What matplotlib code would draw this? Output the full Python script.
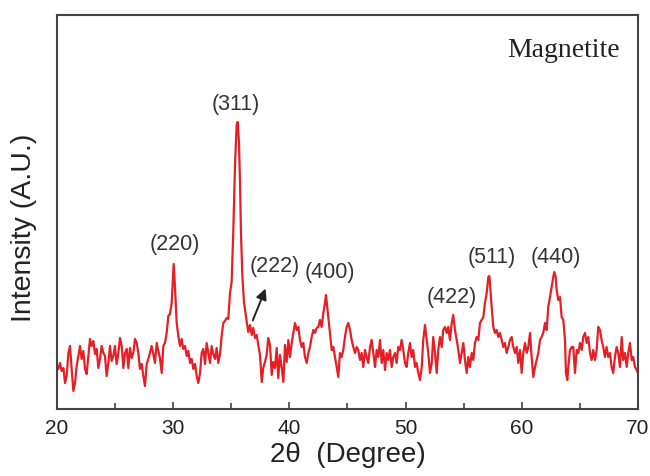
import matplotlib
matplotlib.use('Agg')
import matplotlib.pyplot as plt
from matplotlib.ticker import MultipleLocator

plt.rcParams['font.family'] = ['Liberation Sans', 'DejaVu Sans']

# XRD pattern of magnetite, intensity in arbitrary units
two_theta = [
    20.00, 20.11, 20.26, 20.40, 20.55, 20.69, 20.83, 20.98, 21.12, 21.26,
    21.41, 21.55, 21.69, 21.84, 21.98, 22.12, 22.27, 22.41, 22.55, 22.70,
    22.84, 22.98, 23.13, 23.27, 23.41, 23.56, 23.70, 23.84, 23.99, 24.13,
    24.27, 24.42, 24.56, 24.70, 24.85, 24.99, 25.13, 25.28, 25.42, 25.57,
    25.71, 25.85, 26.00, 26.14, 26.28, 26.43, 26.57, 26.71, 26.86, 27.00,
    27.14, 27.29, 27.43, 27.57, 27.72, 27.86, 28.00, 28.15, 28.29, 28.43,
    28.58, 28.72, 28.86, 29.01, 29.15, 29.29, 29.44, 29.58, 29.72, 29.87,
    30.04, 30.15, 30.30, 30.44, 30.59, 30.73, 30.87, 31.02, 31.16, 31.30,
    31.45, 31.59, 31.73, 31.88, 32.02, 32.16, 32.31, 32.45, 32.59, 32.74,
    32.88, 33.02, 33.17, 33.31, 33.45, 33.60, 33.74, 33.88, 34.03, 34.17,
    34.31, 34.46, 34.60, 34.74, 34.89, 35.03, 35.17, 35.32, 35.46, 35.55,
    35.66, 35.75, 35.83, 35.95, 36.09, 36.33, 36.46, 36.61, 36.76, 36.89,
    37.04, 37.19, 37.32, 37.47, 37.62, 37.75, 37.90, 38.04, 38.18, 38.33,
    38.48, 38.61, 38.76, 38.91, 39.04, 39.19, 39.34, 39.48, 39.62, 39.77,
    39.91, 40.05, 40.20, 40.34, 40.48, 40.63, 40.77, 40.91, 41.06, 41.20,
    41.34, 41.49, 41.63, 41.77, 41.92, 42.06, 42.20, 42.35, 42.49, 42.63,
    42.78, 42.92, 43.06, 43.15, 43.26, 43.35, 43.49, 43.64, 43.78, 43.92,
    44.07, 44.21, 44.35, 44.50, 44.64, 44.78, 44.93, 45.07, 45.22, 45.36,
    45.50, 45.65, 45.79, 45.93, 46.08, 46.22, 46.36, 46.51, 46.65, 46.79,
    46.94, 47.08, 47.22, 47.37, 47.51, 47.65, 47.80, 47.94, 48.08, 48.23,
    48.37, 48.51, 48.66, 48.80, 48.94, 49.09, 49.23, 49.37, 49.52, 49.66,
    49.80, 49.95, 50.09, 50.23, 50.38, 50.52, 50.66, 50.81, 50.95, 51.09,
    51.24, 51.39, 51.52, 51.67, 51.82, 51.95, 52.10, 52.25, 52.38, 52.53,
    52.68, 52.81, 52.96, 53.11, 53.24, 53.39, 53.54, 53.67, 53.82, 53.97,
    54.10, 54.25, 54.40, 54.54, 54.68, 54.83, 54.97, 55.11, 55.26, 55.40,
    55.54, 55.69, 55.83, 55.97, 56.12, 56.26, 56.40, 56.55, 56.69, 56.83,
    56.98, 57.12, 57.21, 57.26, 57.41, 57.55, 57.69, 57.84, 57.98, 58.12,
    58.27, 58.41, 58.55, 58.70, 58.84, 58.98, 59.13, 59.27, 59.42, 59.56,
    59.70, 59.85, 59.99, 60.13, 60.28, 60.42, 60.56, 60.71, 60.85, 60.99,
    61.14, 61.28, 61.42, 61.57, 61.71, 61.85, 62.00, 62.14, 62.28, 62.43,
    62.57, 62.71, 62.80, 62.92, 63.00, 63.14, 63.29, 63.43, 63.57, 63.72,
    63.80, 63.92, 64.00, 64.15, 64.30, 64.43, 64.58, 64.73, 64.86, 65.01,
    65.16, 65.29, 65.44, 65.59, 65.72, 65.87, 66.01, 66.15, 66.30, 66.44,
    66.58, 66.73, 66.87, 67.01, 67.16, 67.30, 67.44, 67.59, 67.73, 67.87,
    68.02, 68.16, 68.30, 68.45, 68.60, 68.73, 68.88, 69.03, 69.16, 69.31,
    69.46, 69.59, 69.74, 69.89, 70.00,
]
intensity = [
    43, 40, 46, 38, 41, 26, 33, 56, 63, 40,
    18, 26, 43, 53, 63, 50, 58, 40, 35, 53,
    70, 63, 68, 55, 60, 41, 50, 63, 56, 53,
    33, 46, 63, 48, 53, 63, 45, 56, 71, 63,
    41, 56, 60, 41, 61, 51, 56, 70, 66, 56,
    40, 45, 33, 23, 45, 50, 56, 63, 55, 46,
    66, 58, 51, 36, 63, 66, 76, 93, 95, 106,
    145, 123, 86, 73, 63, 70, 60, 63, 53, 58,
    46, 50, 40, 45, 33, 26, 36, 56, 60, 45,
    66, 56, 46, 63, 55, 50, 61, 46, 55, 73,
    86, 88, 91, 90, 116, 127, 177, 244, 284, 287,
    267, 227, 177, 134, 107, 87, 77, 84, 74, 81,
    71, 74, 64, 54, 27, 41, 47, 54, 71, 64,
    34, 47, 41, 61, 31, 54, 41, 27, 64, 47,
    69, 52, 66, 76, 86, 79, 82, 69, 62, 66,
    52, 46, 56, 62, 72, 79, 76, 81, 82, 89,
    82, 96, 106, 114, 102, 92, 76, 59, 62, 52,
    42, 32, 56, 52, 59, 72, 82, 86, 79, 69,
    62, 56, 62, 59, 49, 56, 42, 59, 52, 46,
    62, 69, 56, 42, 59, 52, 69, 46, 59, 39,
    56, 49, 59, 42, 52, 56, 46, 62, 59, 69,
    59, 46, 42, 56, 66, 52, 59, 42, 46, 36,
    29, 42, 69, 84, 69, 56, 36, 46, 72, 56,
    36, 59, 72, 62, 79, 82, 76, 82, 69, 86,
    94, 79, 69, 59, 46, 56, 66, 49, 36, 52,
    42, 56, 49, 66, 72, 69, 86, 89, 92, 106,
    116, 132, 133, 126, 102, 82, 76, 79, 72, 76,
    69, 62, 66, 56, 62, 69, 72, 62, 56, 62,
    46, 59, 36, 56, 66, 56, 62, 76, 52, 32,
    42, 49, 56, 69, 72, 76, 86, 79, 102, 112,
    122, 132, 137, 132, 119, 109, 112, 92, 89, 69,
    36, 29, 42, 59, 62, 62, 36, 59, 56, 66,
    59, 72, 76, 66, 72, 56, 49, 59, 49, 59,
    82, 79, 69, 62, 52, 62, 52, 56, 42, 36,
    52, 62, 56, 42, 72, 49, 56, 42, 56, 66,
    49, 52, 42, 39, 36,
]

# Miller index labels placed above their peaks
peak_labels = ['(220)', '(311)', '(400)', '(422)', '(511)', '(440)']
label_x = [30.15, 35.4, 43.5, 54.0, 57.45, 62.95]
label_y = [164, 304, 136, 111, 151, 151]

# (222) sits on the shoulder of (311), pointed at with an arrow
arrow_tail = (36.76, 86)
arrow_head = (38.04, 123)
label_222 = (38.75, 142)

fig = plt.figure(figsize=(6.5, 4.76), dpi=100)
ax = fig.add_axes([0.0877, 0.1408, 0.8938, 0.8277])

ax.plot(two_theta, intensity, color='#e51f26', lw=1.6)

ax.set_xlim(20, 70)
ax.set_ylim(0, 394)
ax.xaxis.set_major_locator(MultipleLocator(10))
ax.xaxis.set_minor_locator(MultipleLocator(5))
ax.set_yticks([])
ax.tick_params(axis='x', which='both', direction='in', top=False,
               colors='#444444', labelcolor='#222222', labelsize=15, pad=7)
ax.tick_params(axis='x', which='major', length=5, width=1.2)
ax.tick_params(axis='x', which='minor', length=4, width=1.2)
for s in ax.spines.values():
    s.set_color('#444444')
    s.set_linewidth(1.5)

ax.set_xlabel('2θ  (Degree)', fontsize=20, color='#222222', labelpad=3)
ax.set_ylabel('Intensity (A.U.)', fontsize=20.5, color='#222222')
ax.yaxis.set_label_coords(-0.034, 0.46)

for t, x, y in zip(peak_labels, label_x, label_y):
    ax.text(x, y, t, ha='center', va='center', fontsize=15.5, color='#333333')

ax.text(label_222[0], label_222[1], '(222)', ha='center', va='center',
        fontsize=15.5, color='#333333')
ax.annotate('', xy=arrow_head, xytext=arrow_tail,
            arrowprops=dict(arrowstyle='-|>', color='#222222', lw=1.4,
                            mutation_scale=16))

ax.text(0.968, 0.91, 'Magnetite', transform=ax.transAxes, ha='right',
        va='center', fontsize=20, family='Liberation Serif', color='#222222')

fig.savefig('out.png', dpi=100)
